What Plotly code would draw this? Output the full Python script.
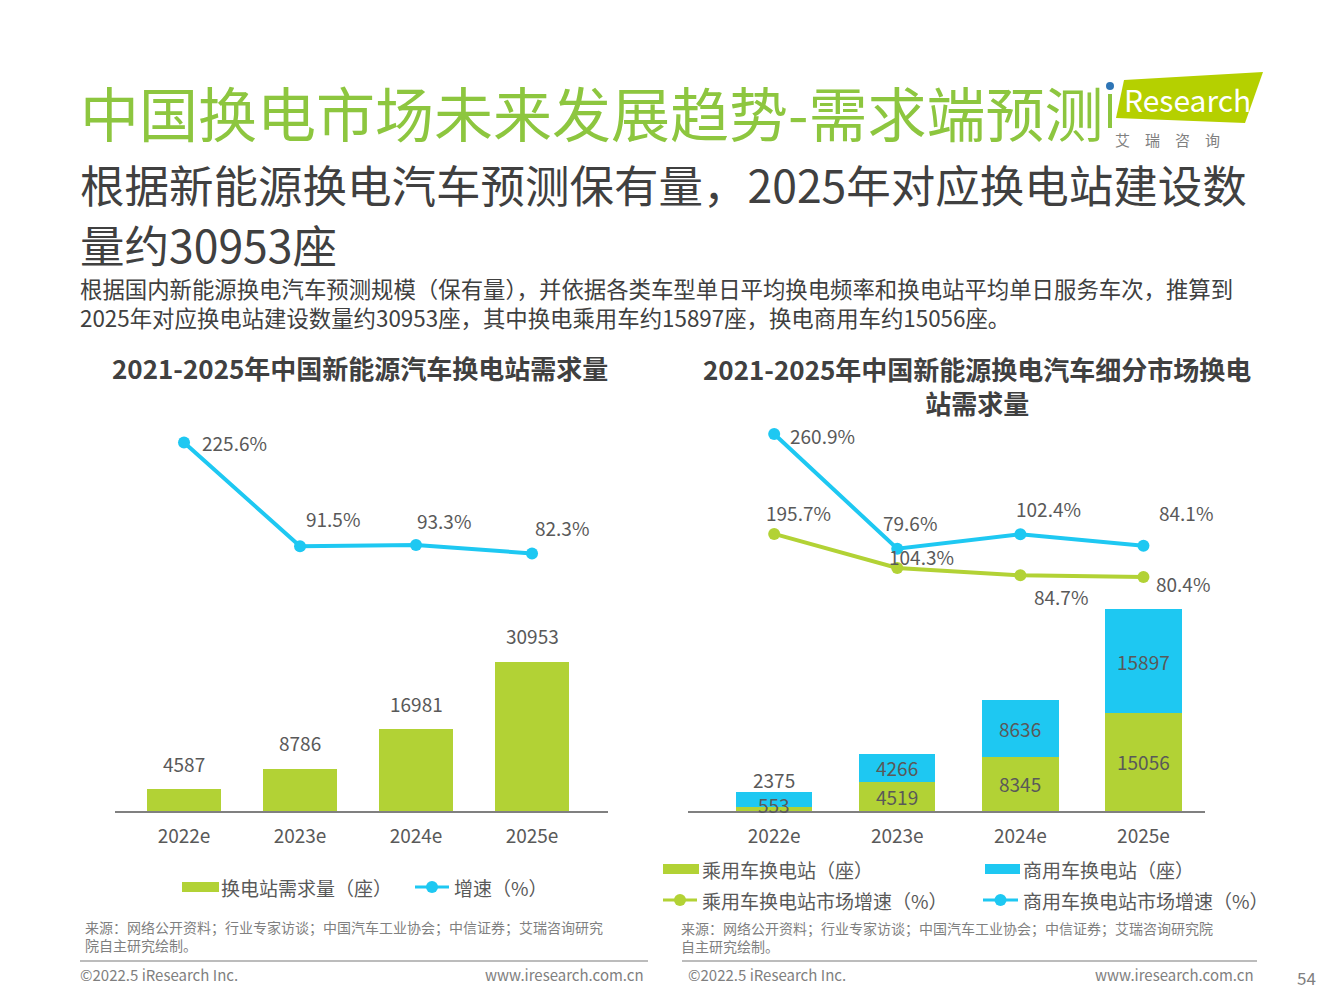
import plotly.graph_objects as go

# ---------------- data ----------------
categories = ["2022e", "2023e", "2024e", "2025e"]

# left chart
station_demand = [4587, 8786, 16981, 30953]
demand_growth = [225.6, 91.5, 93.3, 82.3]

# right chart
passenger_stations = [553, 4519, 8345, 15056]
commercial_stations = [2375, 4266, 8636, 15897]
passenger_growth = [195.7, 104.3, 84.7, 80.4]
commercial_growth = [260.9, 79.6, 102.4, 84.1]

# ---------------- styles ----------------
W, H = 1333, 1000
GREEN = "#B2D235"
BLUE = "#1EC8F2"
TITLE_GREEN = "#8DC63F"
TXT = "#595959"
DARK = "#404040"
FONT = "Noto Sans CJK SC"


def px(x):
    return x / W


def py(y):
    return 1 - y / H


fig = go.Figure()

# ---- left chart ----
fig.add_trace(go.Bar(x=categories, y=station_demand, xaxis="x", yaxis="y",
                     marker=dict(color=GREEN, line=dict(width=0)), width=0.63,
                     showlegend=False, hoverinfo="skip"))
fig.add_trace(go.Scatter(x=categories, y=demand_growth, xaxis="x", yaxis="y2",
                         mode="lines+markers", line=dict(color=BLUE, width=4),
                         marker=dict(color=BLUE, size=12), showlegend=False,
                         hoverinfo="skip"))

# ---- right chart ----
fig.add_trace(go.Bar(x=categories, y=passenger_stations, xaxis="x2", yaxis="y3",
                     marker=dict(color=GREEN, line=dict(width=0)), width=0.62,
                     showlegend=False, hoverinfo="skip"))
fig.add_trace(go.Bar(x=categories, y=commercial_stations, xaxis="x2", yaxis="y3",
                     marker=dict(color=BLUE, line=dict(width=0)), width=0.62,
                     showlegend=False, hoverinfo="skip"))
fig.add_trace(go.Scatter(x=categories, y=commercial_growth, xaxis="x2", yaxis="y4",
                         mode="lines+markers", line=dict(color=BLUE, width=4),
                         marker=dict(color=BLUE, size=12), showlegend=False,
                         hoverinfo="skip"))
fig.add_trace(go.Scatter(x=categories, y=passenger_growth, xaxis="x2", yaxis="y5",
                         mode="lines+markers", line=dict(color=GREEN, width=4),
                         marker=dict(color=GREEN, size=12), showlegend=False,
                         hoverinfo="skip"))

ydom = [py(811), py(423.5)]
ydom_r = [py(811), py(420)]
xaxis_common = dict(type="category", showline=True, linecolor="#808080", linewidth=1.5,
                    ticks="", showgrid=False, zeroline=False,
                    tickfont=dict(family=FONT, size=19, color=TXT), ticklabelstandoff=7,
                    fixedrange=True)

fig.update_layout(
    width=W, height=H,
    margin=dict(l=0, r=0, t=0, b=0),
    paper_bgcolor="white", plot_bgcolor="rgba(0,0,0,0)",
    barmode="stack", bargap=0,
    font=dict(family=FONT, color=TXT),
    xaxis=dict(domain=[px(115), px(608)], range=[-0.595, 3.655], anchor="y", **xaxis_common),
    yaxis=dict(domain=ydom, range=[0, 80000], visible=False, fixedrange=True),
    yaxis2=dict(overlaying="y", anchor="x", range=[-250, 250], visible=False, fixedrange=True),
    xaxis2=dict(domain=[px(688), px(1205)], range=[-0.70, 3.50], anchor="y3", **xaxis_common),
    yaxis3=dict(domain=ydom_r, range=[0, 60000], anchor="x2", visible=False, fixedrange=True),
    yaxis4=dict(overlaying="y3", anchor="x2", range=[-335, 283], visible=False, fixedrange=True),
    yaxis5=dict(overlaying="y3", anchor="x2", range=[-547, 501], visible=False, fixedrange=True),
)

ann = []
shapes = []


def text(x, y, s, size, color=TXT, xanchor="left", yanchor="middle", bold=False, **kw):
    if bold:
        s = "<b>" + s + "</b>"
    ann.append(dict(x=px(x), y=py(y), xref="paper", yref="paper", text=s,
                    showarrow=False, xanchor=xanchor, yanchor=yanchor,
                    font=dict(family=FONT, size=size, color=color), **kw))


# ---- bar labels (left, above bars) ----
for c, v in zip(categories, station_demand):
    ann.append(dict(x=c, y=v, xref="x", yref="y", text=f"{v}", showarrow=False,
                    yanchor="bottom", yshift=10,
                    font=dict(family=FONT, size=19, color=TXT)))

# ---- growth labels (left) ----
left_offsets = [(16, 0, "left"), (33, 28, "center"), (28, 24, "center"), (30, 26, "center")]
for c, v, (dx, dy, xa) in zip(categories, demand_growth, left_offsets):
    ann.append(dict(x=c, y=v, xref="x", yref="y2", text=f"{v}%", showarrow=False,
                    xanchor=xa, xshift=dx, yshift=dy,
                    font=dict(family=FONT, size=19, color=TXT)))

# ---- right stacked bar labels ----
green_shift = [5, 0, 0, 0]
blue_shift = [20, 0, 0, 0]
for i, c in enumerate(categories):
    g = passenger_stations[i]
    b = commercial_stations[i]
    ann.append(dict(x=c, y=g / 2, xref="x2", yref="y3", text=f"{g}", showarrow=False,
                    yshift=green_shift[i], font=dict(family=FONT, size=19, color=TXT)))
    ann.append(dict(x=c, y=g + b / 2, xref="x2", yref="y3", text=f"{b}", showarrow=False,
                    yshift=blue_shift[i], font=dict(family=FONT, size=19, color=TXT)))

# ---- right growth labels ----
blue_offsets = [(14, -2, "left"), (13, 26, "center"), (28, 26, "center"), (43, 33, "center")]
green_offsets = [(24, 21, "center"), (24, 12, "center"), (41, -21, "center"), (40, -7, "center")]
for c, v, (dx, dy, xa) in zip(categories, commercial_growth, blue_offsets):
    ann.append(dict(x=c, y=v, xref="x2", yref="y4", text=f"{v}%", showarrow=False,
                    xanchor=xa, xshift=dx, yshift=dy,
                    font=dict(family=FONT, size=19, color=TXT)))
for c, v, (dx, dy, xa) in zip(categories, passenger_growth, green_offsets):
    ann.append(dict(x=c, y=v, xref="x2", yref="y5", text=f"{v}%", showarrow=False,
                    xanchor=xa, xshift=dx, yshift=dy,
                    font=dict(family=FONT, size=19, color=TXT)))

# ---- headline texts ----
text(78, 112, "中国换电市场未来发展趋势-需求端预测", 59, TITLE_GREEN)
text(78, 184, "根据新能源换电汽车预测保有量，2025年对应换电站建设数", 44.5, DARK)
text(78, 243, "量约30953座", 44.5, DARK)
text(78, 303, "根据国内新能源换电汽车预测规模（保有量），并依据各类车型单日平均换电频率和换电站平均单日服务车次，推算到"
              "<br>2025年对应换电站建设数量约30953座，其中换电乘用车约15897座，换电商用车约15056座。",
     22.4, DARK, align="left")

# chart titles
text(360, 367, "2021-2025年中国新能源汽车换电站需求量", 26, DARK, xanchor="center", bold=True)
text(977, 385, "2021-2025年中国新能源换电汽车细分市场换电<br>站需求量", 26, DARK,
     xanchor="center", bold=True, align="center")

# ---- legends (manual) ----
def legend_box(x0, x1, y, color):
    shapes.append(dict(type="rect", xref="paper", yref="paper", x0=px(x0), x1=px(x1),
                       y0=py(y + 5), y1=py(y - 5), fillcolor=color, line=dict(width=0)))


def legend_line(x0, x1, y, color):
    shapes.append(dict(type="line", xref="paper", yref="paper", x0=px(x0), x1=px(x1),
                       y0=py(y), y1=py(y), line=dict(color=color, width=3)))
    cx = (x0 + x1) / 2
    shapes.append(dict(type="circle", xref="paper", yref="paper", x0=px(cx - 6), x1=px(cx + 6),
                       y0=py(y + 6), y1=py(y - 6), fillcolor=color, line=dict(width=0)))


legend_box(182, 219, 887, GREEN)
text(219, 887, "换电站需求量（座）", 19)
legend_line(415, 449, 887, BLUE)
text(452, 887, "增速（%）", 19)

legend_box(663, 699, 869, GREEN)
text(700, 869, "乘用车换电站（座）", 19)
legend_box(985, 1020, 869, BLUE)
text(1021, 869, "商用车换电站（座）", 19)
legend_line(663, 697, 900, GREEN)
text(700, 900, "乘用车换电站市场增速（%）", 19)
legend_line(983, 1018, 900, BLUE)
text(1021, 900, "商用车换电站市场增速（%）", 19)

# ---- sources ----
SRC = "#7F7F7F"
text(83, 936, "来源：网络公开资料；行业专家访谈；中国汽车工业协会；中信证券；艾瑞咨询研究<br>院自主研究绘制。",
     14, SRC, align="left")
text(679, 937, "来源：网络公开资料；行业专家访谈；中国汽车工业协会；中信证券；艾瑞咨询研究院<br>自主研究绘制。",
     14, SRC, align="left")

# ---- footers ----
shapes.append(dict(type="line", xref="paper", yref="paper", x0=px(80), x1=px(648),
                   y0=py(961), y1=py(961), line=dict(color="#A6A6A6", width=1.5)))
shapes.append(dict(type="line", xref="paper", yref="paper", x0=px(682), x1=px(1257),
                   y0=py(961), y1=py(961), line=dict(color="#A6A6A6", width=1.5)))
text(78, 974, "©2022.5 iResearch Inc.", 15, SRC)
text(646, 974, "www.iresearch.com.cn", 15, SRC, xanchor="right")
text(686, 974, "©2022.5 iResearch Inc.", 15, SRC)
text(1256, 974, "www.iresearch.com.cn", 15, SRC, xanchor="right")
text(1306, 977, "54", 17, SRC, xanchor="center")

# ---- logo ----
shapes.append(dict(type="path", xref="paper", yref="paper",
                   path=f"M {px(1124)} {py(80)} L {px(1263)} {py(72)} L {px(1245)} {py(123)} "
                        f"L {px(1116)} {py(118)} Z",
                   fillcolor="#B5D000", line=dict(width=0)))
shapes.append(dict(type="circle", xref="paper", yref="paper", x0=px(1106), x1=px(1114),
                   y0=py(90), y1=py(82), fillcolor="#2E75B6", line=dict(width=0)))
shapes.append(dict(type="rect", xref="paper", yref="paper", x0=px(1108), x1=px(1112),
                   y0=py(128), y1=py(94), fillcolor="#8DC63F", line=dict(width=0)))
text(1187, 99, "Research", 30, "white", xanchor="center")
text(1113, 139, "艾　瑞　咨　询", 15, "#808080")

fig.update_layout(annotations=ann, shapes=shapes)

fig.write_html("out.html", config={"displayModeBar": False},
               post_script="document.body.style.margin='0';document.body.style.padding='0';")
